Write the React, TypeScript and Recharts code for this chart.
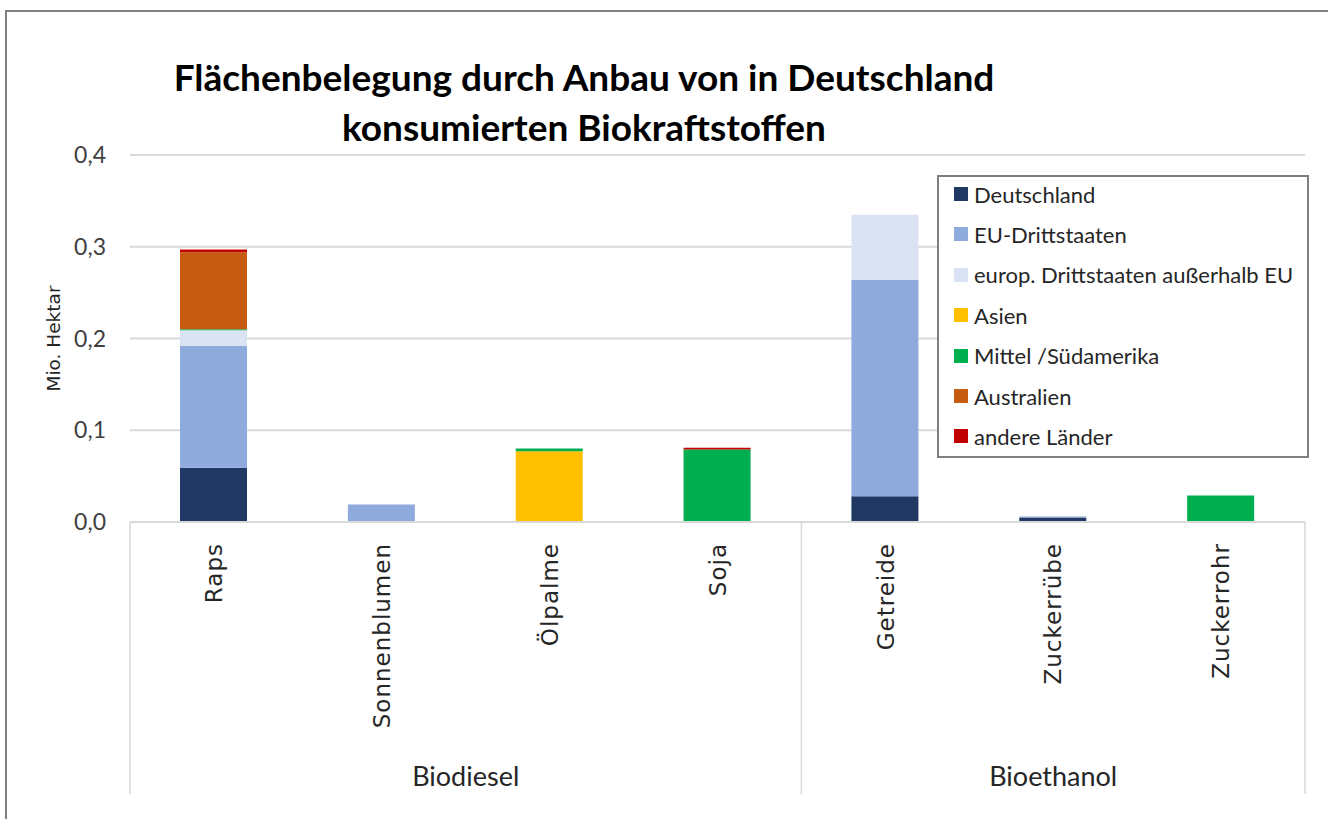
import { BarChart, Bar, XAxis, YAxis, CartesianGrid, Legend } from "recharts";

// categories and groups
const crops = ["Raps", "Sonnenblumen", "Ölpalme", "Soja", "Getreide", "Zuckerrübe", "Zuckerrohr"];
const fuelGroups = ["Biodiesel", "Biodiesel", "Biodiesel", "Biodiesel", "Bioethanol", "Bioethanol", "Bioethanol"];

// Mio. Hektar per origin region
const deutschland = [0.059, 0, 0, 0, 0.028, 0.005, 0];
const euDrittstaaten = [0.133, 0.019, 0, 0, 0.236, 0.001, 0];
const europDrittstaaten = [0.017, 0, 0, 0, 0.071, 0, 0];
const asien = [0, 0, 0.077, 0, 0, 0, 0];
const mittelSuedamerika = [0.001, 0, 0.003, 0.079, 0, 0, 0.029];
const australien = [0.084, 0, 0, 0, 0, 0, 0];
const andereLaender = [0.003, 0, 0, 0.002, 0, 0, 0];

const yTicks = [0, 0.1, 0.2, 0.3, 0.4];

const series = [
  { key: "Deutschland", values: deutschland, color: "#203864" },
  { key: "EU-Drittstaaten", values: euDrittstaaten, color: "#8FAADC" },
  { key: "europ. Drittstaaten außerhalb EU", values: europDrittstaaten, color: "#DAE3F3" },
  { key: "Asien", values: asien, color: "#FFC000" },
  { key: "Mittel /Südamerika", values: mittelSuedamerika, color: "#00B050" },
  { key: "Australien", values: australien, color: "#C55A11" },
  { key: "andere Länder", values: andereLaender, color: "#C00000" },
];

const chartData = crops.map((crop, i) => {
  const row: Record<string, string | number> = { crop, group: fuelGroups[i] };
  series.forEach((s) => {
    row[s.key] = s.values[i];
  });
  return row;
});

const WIDTH = 1328;
const HEIGHT = 819;
const PLOT_LEFT = 130;
const PLOT_RIGHT = 1305;
const BAND = (PLOT_RIGHT - PLOT_LEFT) / crops.length;

const labelFont = "'DejaVu Sans', Verdana, sans-serif";
const calibriLike = "Lato, 'Open Sans', sans-serif";

function CropTick(props: any) {
  const { x, y, payload, index } = props;
  const sepColor = "#d9d9d9";
  const sepHeight = 272;
  const parts: any[] = [];
  // group separators and group labels
  if (index === 0 || index === 4) {
    parts.push(
      <line key="l" x1={x - BAND / 2} x2={x - BAND / 2} y1={y} y2={y + sepHeight} stroke={sepColor} strokeWidth={1.5} />
    );
    const span = index === 0 ? 4 : 3;
    const cx = x - BAND / 2 + (span * BAND) / 2;
    parts.push(
      <text key="g" x={cx} y={y + 253} textAnchor="middle" fontSize={27} fontFamily={calibriLike} fill="#262626" dominantBaseline="central">
        {fuelGroups[index]}
      </text>
    );
  }
  if (index === 6) {
    parts.push(
      <line key="r" x1={x + BAND / 2} x2={x + BAND / 2} y1={y} y2={y + sepHeight} stroke={sepColor} strokeWidth={1.5} />
    );
  }
  return (
    <g>
      {parts}
      <text
        x={x}
        y={y + 21}
        transform={`rotate(-90, ${x}, ${y + 21})`}
        textAnchor="end"
        dy="0.36em"
        fontSize={23}
        letterSpacing={1}
        fontFamily={labelFont}
        fill="#262626"
      >
        {payload.value}
      </text>
    </g>
  );
}

function YLabel(props: any) {
  const { viewBox } = props;
  const cy = viewBox.y + viewBox.height / 2;
  const cx = 53;
  return (
    <text
      x={cx}
      y={cy}
      transform={`rotate(-90, ${cx}, ${cy})`}
      textAnchor="middle"
      dominantBaseline="central"
      fontSize={18.5}
      fontFamily={labelFont}
      fill="#262626"
    >
      Mio. Hektar
    </text>
  );
}

function LegendBox() {
  return (
    <div
      style={{
        boxSizing: "border-box",
        width: 372,
        height: 283,
        border: "2px solid #7f7f7f",
        background: "#fff",
        position: "relative",
        fontFamily: calibriLike,
        fontSize: 22,
        color: "#262626",
        textAlign: "left",
      }}
    >
      {series.map((s, i) => (
        <div
          key={s.key}
          style={{
            position: "absolute",
            left: 15,
            top: 17 + i * 40.4 - 15,
            height: 30,
            display: "flex",
            alignItems: "center",
            whiteSpace: "nowrap",
          }}
        >
          <span style={{ display: "inline-block", width: 14, height: 14, background: s.color, marginRight: 6 }} />
          {s.key}
        </div>
      ))}
    </div>
  );
}

export default function App() {
  return (
    <div style={{ position: "absolute", left: 0, top: 0, width: WIDTH, height: HEIGHT, background: "#fff", overflow: "hidden" }}>
      <div
        style={{
          position: "absolute",
          left: 5,
          top: 10,
          width: WIDTH,
          height: HEIGHT,
          borderLeft: "2.5px solid #808080",
          borderTop: "2.5px solid #808080",
        }}
      />
      <div
        style={{
          position: "absolute",
          left: 84,
          width: 1000,
          top: 52,
          textAlign: "center",
          fontFamily: calibriLike,
          fontWeight: 700,
          fontSize: 37,
          lineHeight: "50px",
          color: "#000",
        }}
      >
        Flächenbelegung durch Anbau von in Deutschland
        <br />
        konsumierten Biokraftstoffen
      </div>
      <div style={{ position: "absolute", left: 0, top: 0 }}>
        <BarChart
          width={WIDTH}
          height={HEIGHT}
          data={chartData}
          margin={{ left: 70, right: WIDTH - PLOT_RIGHT, top: 155, bottom: 17 }}
          barSize={67}
        >
          <CartesianGrid vertical={false} stroke="#d9d9d9" strokeWidth={2} />
          <XAxis
            dataKey="crop"
            height={280}
            interval={0}
            tickLine={false}
            tickSize={0}
            tickMargin={0}
            axisLine={{ stroke: "#d9d9d9", strokeWidth: 2 }}
            tick={<CropTick />}
          />
          <YAxis
            width={60}
            domain={[0, 0.4]}
            ticks={yTicks}
            interval={0}
            axisLine={false}
            tickLine={false}
            tickSize={0}
            tickMargin={24}
            tick={{ fontSize: 23, fontFamily: calibriLike, fill: "#404040" }}
            tickFormatter={(v: number) => v.toFixed(1).replace(".", ",")}
            label={<YLabel />}
          />
          <Legend
            layout="horizontal"
            align="center"
            verticalAlign="middle"
            wrapperStyle={{ left: 937, top: 175, width: 372, height: 283 }}
            content={<LegendBox />}
          />
          {series.map((s) => (
            <Bar key={s.key} dataKey={s.key} stackId="a" fill={s.color} isAnimationActive={false} />
          ))}
        </BarChart>
      </div>
    </div>
  );
}
